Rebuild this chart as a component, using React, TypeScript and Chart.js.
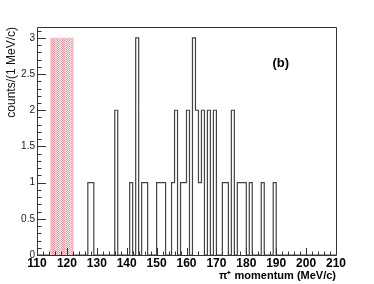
import React, { useEffect, useRef } from "react";
import { Chart, registerables } from "chart.js";

Chart.register(...registerables);

// Histogram bins (1 MeV/c wide), lower edges and counts
const binLow: number[] = [127, 128, 136, 141, 143, 145, 146, 150, 151, 152, 155, 156, 158, 159, 160, 162, 163, 164, 165, 167, 169, 172, 173, 175, 177, 178, 179, 181, 185, 189];
const binCounts: number[] = [1, 1, 2, 1, 3, 1, 1, 1, 1, 1, 1, 2, 1, 1, 2, 3, 2, 1, 2, 2, 2, 1, 1, 2, 1, 1, 1, 1, 1, 1];
const xRange: number[] = [110, 210];
const yRange: number[] = [0, 3.15];
// Shaded (excluded) band
const bandX: number[] = [114.2, 122.2];
const bandTop: number = 3;
const xTitle = "\u03c0\u207a momentum (MeV/c)";
const yTitle = "counts/(1 MeV/c)";
const panelLabel = "(b)";
const panelPos: number[] = [191.5, 2.65];

const FONT = "'Liberation Sans', Arial, Helvetica, sans-serif";

function makePattern(): CanvasPattern | string {
  const c = document.createElement("canvas");
  c.width = 5;
  c.height = 2;
  const g = c.getContext("2d");
  if (!g) return "#f7b3b8";
  for (let x = 0; x < 5; x++) {
    for (let y = 0; y < 2; y++) {
      let col: string;
      if (x === 0) col = "#fbd0d4";
      else col = (x + y) % 2 === 0 ? "#f48e98" : "#ffeef0";
      g.fillStyle = col;
      g.fillRect(x, y, 1, 1);
    }
  }
  const p = g.createPattern(c, "repeat");
  return p || "#f7b3b8";
}

const framePlugin = {
  id: "rootFrame",
  afterDraw(chart: any) {
    const { ctx, chartArea, scales } = chart;
    const xs = scales.x;
    const ys = scales.y;
    const { left, right, top, bottom } = chartArea;
    ctx.save();
    ctx.strokeStyle = "#333";
    ctx.lineWidth = 1;
    ctx.beginPath();
    ctx.rect(Math.round(left) + 0.5, Math.round(top) + 0.5, Math.round(right - left), Math.round(bottom - top));
    ctx.stroke();
    // x ticks (inward)
    ctx.beginPath();
    for (let v = xRange[0]; v <= xRange[1]; v += 2) {
      const px = Math.round(xs.getPixelForValue(v)) + 0.5;
      const len = v % 10 === 0 ? 7 : 3.5;
      ctx.moveTo(px, bottom);
      ctx.lineTo(px, bottom - len);
    }
    // y ticks (inward)
    for (let i = 0; i <= 31; i++) {
      const v = i / 10;
      const py = Math.round(ys.getPixelForValue(v)) + 0.5;
      const len = i % 5 === 0 ? 9 : 4.5;
      ctx.moveTo(left, py);
      ctx.lineTo(left + len, py);
    }
    ctx.stroke();
    // panel label
    ctx.fillStyle = "#000";
    ctx.font = `bold 13px ${FONT}`;
    ctx.textAlign = "center";
    ctx.textBaseline = "middle";
    ctx.fillText(panelLabel, xs.getPixelForValue(panelPos[0]), ys.getPixelForValue(panelPos[1]));
    ctx.restore();
  },
};

export default function App() {
  const ref = useRef<HTMLCanvasElement | null>(null);

  useEffect(() => {
    document.body.style.margin = "0";
    const canvas = ref.current;
    if (!canvas) return;

    const countMap = new Map<number, number>();
    binLow.forEach((b, i) => countMap.set(b, binCounts[i]));
    const histPts: { x: number; y: number }[] = [];
    for (let v = xRange[0]; v < xRange[1]; v++) {
      histPts.push({ x: v, y: countMap.get(v) ?? 0 });
    }
    histPts.push({ x: xRange[1], y: 0 });

    const chart = new Chart(canvas, {
      type: "line",
      data: {
        datasets: [
          {
            data: [
              { x: bandX[0], y: bandTop },
              { x: bandX[1], y: bandTop },
            ],
            fill: "origin",
            backgroundColor: makePattern() as any,
            borderWidth: 0,
            borderColor: "rgba(0,0,0,0)",
            pointRadius: 0,
          },
          {
            data: histPts,
            stepped: true,
            fill: false,
            borderColor: "#444",
            borderWidth: 1.2,
            pointRadius: 0,
            clip: false as any,
          },
        ],
      },
      options: {
        responsive: false,
        animation: false,
        events: [],
        layout: { padding: { left: 0, right: 38, top: 27, bottom: 0 } },
        plugins: { legend: { display: false }, tooltip: { enabled: false } },
        scales: {
          x: {
            type: "linear",
            min: xRange[0],
            max: xRange[1],
            grid: { display: false, drawTicks: false },
            border: { display: false },
            ticks: {
              stepSize: 10,
              autoSkip: false,
              maxRotation: 0,
              padding: 1,
              color: "#000",
              font: { family: FONT, size: 12, weight: "bold" },
            },
            title: {
              display: true,
              text: xTitle,
              align: "end",
              color: "#000",
              font: { family: FONT, size: 11, weight: "bold" },
              padding: { top: 0, bottom: 1.5 },
            },
            afterFit(scale: any) {
              scale.height = 29;
            },
          },
          y: {
            type: "linear",
            min: yRange[0],
            max: yRange[1],
            grid: { display: false, drawTicks: false },
            border: { display: false },
            ticks: {
              stepSize: 0.5,
              includeBounds: false,
              padding: 2,
              color: "#222",
              font: { family: FONT, size: 10 },
              callback: (v: any) => String(Number(v)),
            },
            title: {
              display: true,
              text: yTitle,
              align: "end",
              color: "#111",
              font: { family: FONT, size: 12 },
              padding: { top: 4, bottom: 0 },
            },
            afterFit(scale: any) {
              scale.width = 37;
            },
          },
        },
      },
      plugins: [framePlugin],
    });
    return () => chart.destroy();
  }, []);

  return (
    <div style={{ width: 374, height: 284, background: "#fff" }}>
      <canvas ref={ref} width={374} height={284} style={{ display: "block" }} />
    </div>
  );
}
